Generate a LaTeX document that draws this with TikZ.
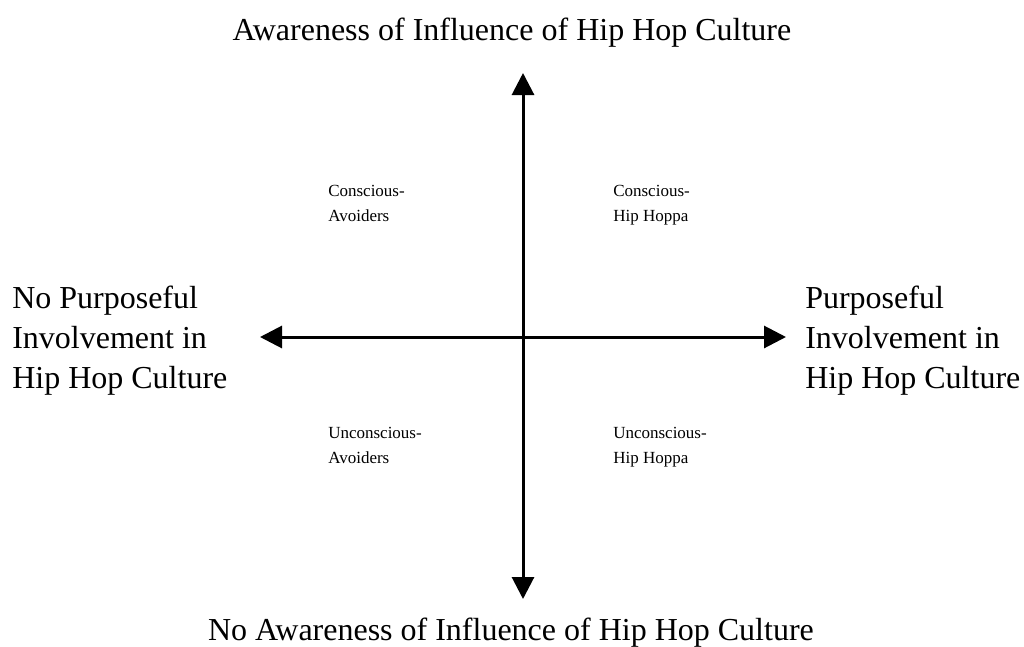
\documentclass[tikz,border=0pt]{standalone}
\usepackage{fontspec}
\setmainfont{Liberation Serif}
\usetikzlibrary{arrows.meta}
\begin{document}
\begin{tikzpicture}[x=0.75pt,y=-0.75pt,
  axis/.style={line width=2.25pt,{Triangle[length=16.5pt,width=16.5pt]}-{Triangle[length=16.5pt,width=16.5pt]}},
  big/.style={inner sep=0pt,font=\fontsize{24pt}{30pt}\selectfont},
  bigblock/.style={big,align=left,anchor=west},
  small/.style={inner sep=0pt,align=left,anchor=north west,font=\fontsize{12.75pt}{18.75pt}\selectfont}]
  \useasboundingbox (0,0) rectangle (1024,646);
  % axis end points
  \coordinate (top) at (523,73);
  \coordinate (bottom) at (523,599);
  \coordinate (left) at (260,337);
  \coordinate (right) at (786,337);
  \draw[axis] (top) -- (bottom);
  \draw[axis] (left) -- (right);
  % axis titles
  \node[big,anchor=base] (ttl) at (512,40) {Awareness of Influence of Hip Hop Culture};
  \node[big,anchor=base] (btl) at (511,640) {No Awareness of Influence of Hip Hop Culture};
  \node[bigblock] (ltl) at (12,341) {No Purposeful\\Involvement in\\Hip Hop Culture};
  \node[bigblock] (rtl) at (805,341) {Purposeful\\Involvement in\\Hip Hop Culture};
  % quadrant labels
  \node[small] (q1) at (328,185) {Conscious-\\Avoiders};
  \node[small] (q2) at (613,185) {Conscious-\\Hip Hoppa};
  \node[small] (q3) at (328,427) {Unconscious-\\Avoiders};
  \node[small] (q4) at (613,427) {Unconscious-\\Hip Hoppa};
\end{tikzpicture}
\end{document}
